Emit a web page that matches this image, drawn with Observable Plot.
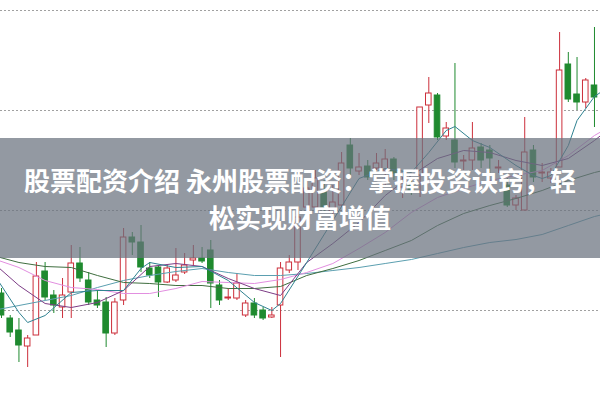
<!DOCTYPE html>
<html>
<head>
<meta charset="utf-8">
<script src="https://cdn.jsdelivr.net/npm/d3@7"></script>
<script src="https://cdn.jsdelivr.net/npm/@observablehq/plot@0.6"></script>
<style>
  html, body { margin: 0; padding: 0; background: #fff; }
  #wrap { position: relative; width: 600px; height: 399px; overflow: hidden; }
  #chart svg { display: block; }
  #banner { position: absolute; left: 0; top: 138px; width: 600px; height: 120px;
            background: rgba(105,113,126,0.72); }
  #title { position: absolute; left: 0; top: 23px; width: 600px; text-align: center;
           color: #fff; font-family: "Noto Sans CJK SC", sans-serif; font-weight: 700;
           font-size: 26px; line-height: 37px; white-space: nowrap; }
</style>
</head>
<body>
<div id="wrap">
  <div id="chart"></div>
  <div id="banner">
    <div id="title"><div>股票配资介绍 永州股票配资：掌握投资诀窍，轻</div><div>松实现财富增值</div></div>
  </div>
</div>
<script>
// ---- candle data (one entry per trading day, left to right) ----
const opens  = [9.17,8.92,8.80,8.64,8.75,9.39,9.15,9.03,9.18,9.47,9.30,9.10,9.08,8.77,9.10,9.73,9.68,9.42,9.43,9.28,9.30,9.38,9.50,9.52,9.60,9.25,9.12,9.12,8.95,9.07,9.00,8.93,9.05,9.40,9.48,10.03,10.03,10.18,9.98,10.05,10.65,10.39,10.44,10.42,10.40,10.51,10.23,10.25,10.35,11.05,11.15,10.74,10.70,10.49,10.50,10.63,10.60,10.42,10.25,10.05,10.00,10.60,10.37,10.32,10.43,11.46,11.16,11.08,11.25];
const highs  = [9.22,8.95,8.92,8.75,9.48,9.48,9.20,9.32,9.65,9.63,9.38,9.20,9.13,9.12,9.82,9.78,9.85,9.48,9.45,9.45,9.62,9.57,9.65,9.63,9.70,9.30,9.22,9.37,9.10,9.12,9.03,9.03,9.48,9.55,10.03,10.30,10.40,10.30,10.25,10.58,10.72,10.57,10.50,10.57,10.61,10.53,10.33,10.30,11.03,11.33,11.17,10.88,11.47,10.55,10.88,10.67,10.65,10.50,10.32,10.15,10.93,10.65,10.47,10.42,11.78,11.58,11.53,11.32,11.83];
const lows   = [8.92,8.73,8.48,8.43,8.75,9.10,8.97,8.92,8.92,9.28,9.05,9.02,8.63,8.75,9.05,9.55,9.38,9.32,9.13,9.27,9.28,9.36,9.45,9.47,9.02,9.05,9.10,9.10,8.93,8.92,8.90,8.92,8.53,9.37,9.40,9.98,10.00,9.98,9.95,10.03,10.35,10.35,10.30,10.38,10.23,10.30,10.12,10.15,10.13,10.87,10.70,10.70,10.42,10.40,10.40,10.42,10.37,10.37,10.03,10.00,10.00,10.28,10.28,10.27,10.43,11.08,11.00,11.02,10.83];
const closes = [8.95,8.78,8.65,8.72,9.34,9.13,9.05,9.15,9.47,9.32,9.08,9.05,8.77,9.08,9.73,9.68,9.43,9.35,9.28,9.42,9.35,9.45,9.52,9.49,9.27,9.10,9.13,9.27,9.07,8.95,8.92,8.95,9.42,9.48,9.93,10.22,10.32,10.03,10.08,10.47,10.42,10.43,10.33,10.47,10.51,10.37,10.27,10.20,11.03,11.17,10.73,10.82,10.48,10.50,10.62,10.50,10.52,10.43,10.05,10.12,10.58,10.33,10.38,10.38,11.40,11.11,11.08,11.30,11.13];

// ---- moving-average lines (day index -> value) ----
const fastDays = [0,3,4,6,9,12,15,17,18,21,24,27,30,32,33,36,39,42,45,48,50,52,53,55,57,60,62,63,64,66,67,69,70];
const maFast   = [9.38,8.98,8.88,8.95,9.18,9.20,9.20,9.42,9.48,9.43,9.44,9.30,9.08,9.00,9.07,9.48,9.90,10.32,10.42,10.38,10.58,10.80,10.84,10.70,10.63,10.45,10.35,10.32,10.35,10.65,10.90,11.14,11.20];

const maDays   = [0,3,6,9,12,15,18,21,24,27,30,33,36,39,42,45,48,51,54,57,60,63,66,69,70];
const maPurple = [9.48,9.25,9.07,9.03,9.08,9.20,9.44,9.47,9.44,9.32,9.22,9.15,9.48,9.67,9.88,10.15,10.35,10.52,10.60,10.58,10.50,10.45,10.52,10.70,10.77];
const maPink   = [9.52,9.43,9.30,9.23,9.21,9.17,9.17,9.22,9.29,9.28,9.27,9.31,9.38,9.47,9.62,9.78,9.98,10.13,10.22,10.30,10.35,10.40,10.55,10.75,10.80];
const maGreen  = [9.55,9.48,9.44,9.43,9.35,9.28,9.27,9.25,9.25,9.22,9.22,9.24,9.35,9.42,9.50,9.60,9.70,9.85,9.97,10.05,10.12,10.20,10.30,10.38,10.40];
const maSlow   = [9.00,9.05,9.10,9.15,9.23,9.30,9.35,9.39,9.42,9.38,9.35,9.35,9.37,9.40,9.43,9.47,9.51,9.57,9.63,9.68,9.71,9.76,9.85,9.94,9.96];

const gridValues = [9, 10, 11, 12];

const RED = "#cc2f3b", GREEN = "#1f8a2f";

const candles = opens.map((o, k) => ({
  day: k + 1, open: o, high: highs[k], low: lows[k], close: closes[k], up: closes[k] >= o
}));
const lineOf = (days, vals) => days.map((d, k) => ({day: d, v: vals[k]}));

const chart = Plot.plot({
  width: 600, height: 399,
  marginTop: 0, marginRight: 0, marginBottom: 0, marginLeft: 0,
  x: {domain: [0.885, 69.69], axis: null},
  y: {domain: [8.11, 12.1], axis: null},
  style: {background: "transparent", overflow: "hidden"},
  marks: [
    Plot.ruleY(gridValues, {stroke: "#a0a0a0", strokeDasharray: "2,2", strokeWidth: 1}),
    Plot.ruleX(candles, {x: "day", y1: "low", y2: "high", stroke: d => d.up ? RED : GREEN, strokeWidth: 1}),
    Plot.rect(candles, {
      x1: d => d.day - 0.32, x2: d => d.day + 0.32, y1: "open", y2: "close",
      fill: d => d.up ? "#ffffff" : GREEN, stroke: d => d.up ? RED : GREEN, strokeWidth: 1
    }),
    Plot.line(lineOf(maDays, maSlow),   {x: "day", y: "v", stroke: "#5b9fb0", strokeWidth: 1, clip: true}),
    Plot.line(lineOf(maDays, maGreen),  {x: "day", y: "v", stroke: "#3f6e3f", strokeWidth: 1, clip: true}),
    Plot.line(lineOf(maDays, maPink),   {x: "day", y: "v", stroke: "#e28fe0", strokeWidth: 1, clip: true}),
    Plot.line(lineOf(maDays, maPurple), {x: "day", y: "v", stroke: "#7d3d86", strokeWidth: 1, clip: true}),
    Plot.line(lineOf(fastDays, maFast), {x: "day", y: "v", stroke: "#2f8291", strokeWidth: 1, clip: true})
  ]
});
document.getElementById("chart").appendChild(chart);
</script>
</body>
</html>
